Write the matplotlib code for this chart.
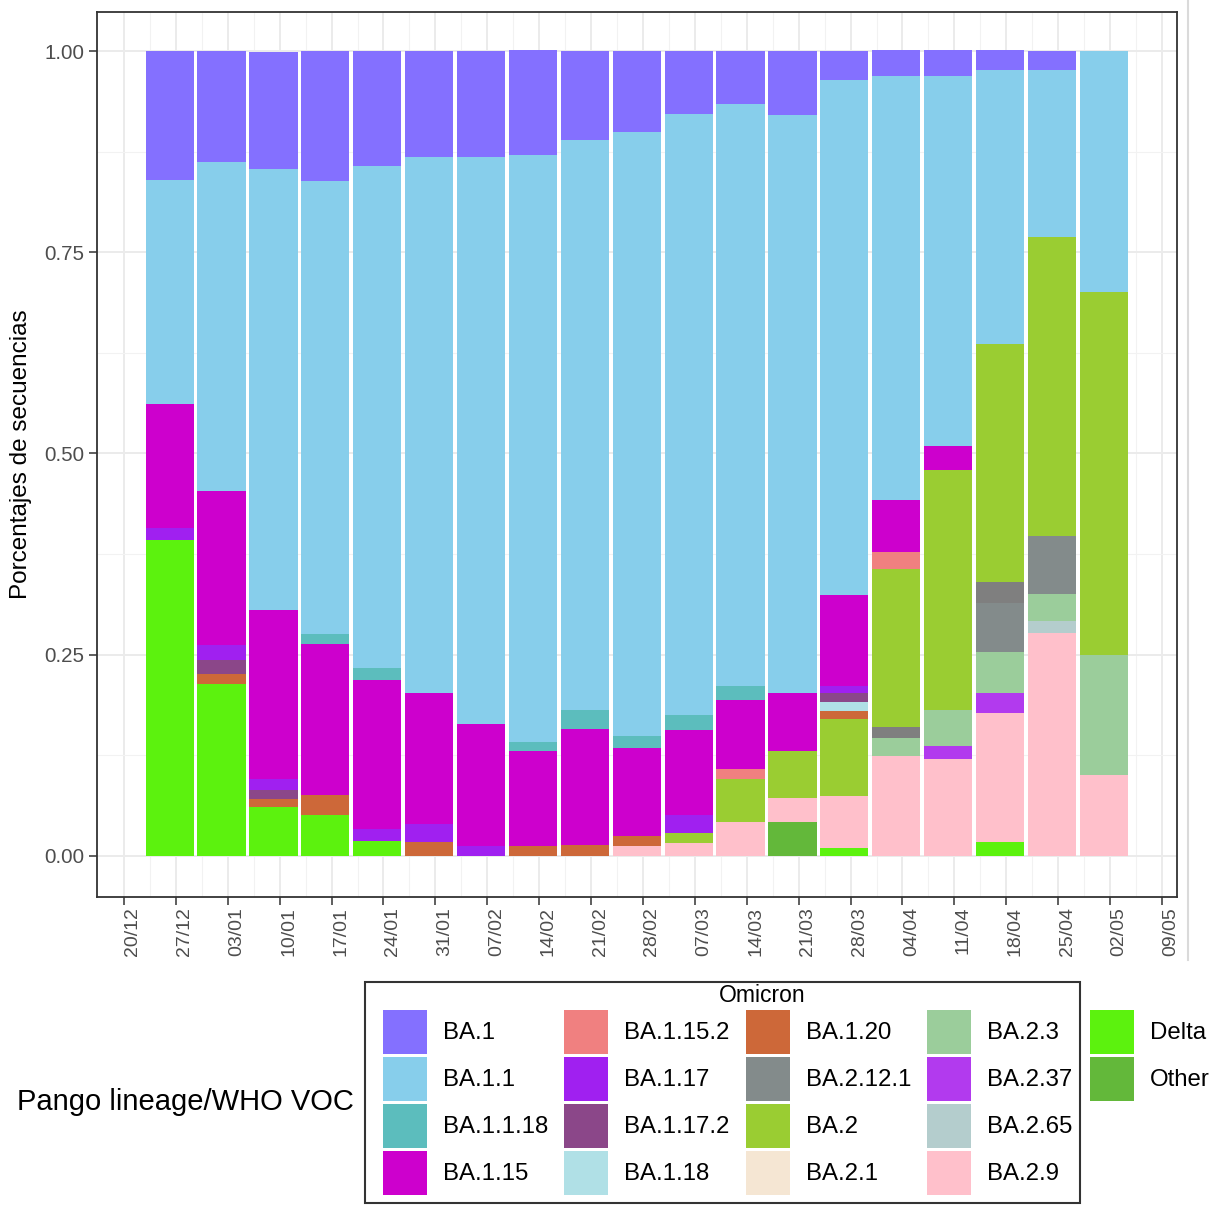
import matplotlib
matplotlib.use("Agg")
import matplotlib.pyplot as plt
from matplotlib.patches import Patch, Rectangle
from matplotlib.lines import Line2D
from matplotlib.transforms import ScaledTranslation, blended_transform_factory
import numpy as np

plt.rcParams['font.family'] = ['Liberation Sans', 'DejaVu Sans']

# ---------------- data ----------------
tick_labels = ["20/12", "27/12", "03/01", "10/01", "17/01", "24/01", "31/01",
               "07/02", "14/02", "21/02", "28/02", "07/03", "14/03", "21/03",
               "28/03", "04/04", "11/04", "18/04", "25/04", "02/05", "09/05"]
weeks = ["27/12", "03/01", "10/01", "17/01", "24/01", "31/01", "07/02",
         "14/02", "21/02", "28/02", "07/03", "14/03", "21/03", "28/03",
         "04/04", "11/04", "18/04", "25/04", "02/05"]

#            27/12  03/01  10/01  17/01  24/01  31/01  07/02  14/02  21/02  28/02  07/03  14/03  21/03  28/03  04/04  11/04  18/04  25/04  02/05
other      = [0,     0,     0,     0,     0,     0,     0,     0,     0,     0,     0,     0,     0.042, 0,     0,     0,     0,     0,     0]
delta      = [0.393, 0.214, 0.061, 0.051, 0.019, 0,     0,     0,     0,     0,     0,     0,     0,     0.010, 0,     0,     0.017, 0,     0]
ba2_9      = [0,     0,     0,     0,     0,     0,     0,     0,     0,     0.012, 0.016, 0.042, 0.030, 0.064, 0.124, 0.121, 0.160, 0.277, 0.100]
ba2_65     = [0,     0,     0,     0,     0,     0,     0,     0,     0,     0,     0,     0,     0,     0,     0,     0,     0,     0.015, 0]
ba2_37     = [0,     0,     0,     0,     0,     0,     0,     0,     0,     0,     0,     0,     0,     0,     0,     0.015, 0.026, 0,     0]
ba2_3      = [0,     0,     0,     0,     0,     0,     0,     0,     0,     0,     0,     0,     0,     0,     0.022, 0.045, 0.051, 0.034, 0.150]
ba2_1      = [0,     0,     0,     0,     0,     0,     0,     0,     0,     0,     0,     0,     0,     0,     0,     0,     0,     0,     0]
ba2_12_1   = [0,     0,     0,     0,     0,     0,     0,     0,     0,     0,     0,     0,     0,     0,     0,     0,     0.060, 0.071, 0]
ba2_oth    = [0,     0,     0,     0,     0,     0,     0,     0,     0,     0,     0,     0,     0,     0,     0.014, 0,     0.026, 0,     0]
ba2        = [0,     0,     0,     0,     0,     0,     0,     0,     0,     0,     0.013, 0.054, 0.058, 0.096, 0.197, 0.299, 0.296, 0.372, 0.451]
ba1_20     = [0,     0.012, 0.010, 0.025, 0,     0.017, 0,     0.012, 0.014, 0.013, 0,     0,     0,     0.010, 0,     0,     0,     0,     0]
ba1_18     = [0,     0,     0,     0,     0,     0,     0,     0,     0,     0,     0,     0,     0,     0.011, 0,     0,     0,     0,     0]
ba1_17_2   = [0,     0.017, 0.011, 0,     0,     0,     0,     0,     0,     0,     0,     0,     0,     0.011, 0,     0,     0,     0,     0]
ba1_17     = [0.015, 0.019, 0.013, 0,     0.015, 0.023, 0.012, 0,     0,     0,     0.022, 0,     0,     0.009, 0,     0,     0,     0,     0]
ba1_15_2   = [0,     0,     0,     0,     0,     0,     0,     0,     0,     0,     0,     0.012, 0,     0,     0.021, 0,     0,     0,     0]
ba1_15     = [0.154, 0.192, 0.210, 0.187, 0.184, 0.163, 0.152, 0.118, 0.144, 0.109, 0.105, 0.086, 0.073, 0.113, 0.064, 0.029, 0,     0,     0]
ba1_1_18   = [0,     0,     0,     0.013, 0.015, 0,     0,     0.011, 0.023, 0.015, 0.019, 0.017, 0,     0,     0,     0,     0,     0,     0]
ba1_1      = [0.278, 0.408, 0.549, 0.562, 0.624, 0.665, 0.704, 0.730, 0.708, 0.751, 0.747, 0.723, 0.717, 0.640, 0.527, 0.460, 0.340, 0.208, 0.299]
ba1        = [0.160, 0.138, 0.145, 0.162, 0.143, 0.132, 0.132, 0.130, 0.111, 0.100, 0.078, 0.066, 0.080, 0.036, 0.032, 0.032, 0.025, 0.023, 0]

# stacking order, bottom -> top
stack = [
    ("Other",     other,    "#63B83A"),
    ("Delta",     delta,    "#5CF20E"),
    ("BA.2.9",    ba2_9,    "#FFC0CB"),
    ("BA.2.65",   ba2_65,   "#B4CDCD"),
    ("BA.2.37",   ba2_37,   "#B23AEE"),
    ("BA.2.3",    ba2_3,    "#9BCD9B"),
    ("BA.2.1",    ba2_1,    "#F5E6D3"),
    ("BA.2.12.1", ba2_12_1, "#838B8B"),
    ("_BA.2 otros", ba2_oth, "#7F7F7F"),
    ("BA.2",      ba2,      "#9ACD32"),
    ("BA.1.20",   ba1_20,   "#CD6839"),
    ("BA.1.18",   ba1_18,   "#B0E0E6"),
    ("BA.1.17.2", ba1_17_2, "#8B4789"),
    ("BA.1.17",   ba1_17,   "#A020F0"),
    ("BA.1.15.2", ba1_15_2, "#F08080"),
    ("BA.1.15",   ba1_15,   "#CD00CD"),
    ("BA.1.1.18", ba1_1_18, "#5CBDBD"),
    ("BA.1.1",    ba1_1,    "#87CEEB"),
    ("BA.1",      ba1,      "#8470FF"),
]
colors = {n: c for n, _, c in stack}

omicron_legend = ["BA.1", "BA.1.1", "BA.1.1.18", "BA.1.15",
                  "BA.1.15.2", "BA.1.17", "BA.1.17.2", "BA.1.18",
                  "BA.1.20", "BA.2.12.1", "BA.2", "BA.2.1",
                  "BA.2.3", "BA.2.37", "BA.2.65", "BA.2.9"]
voc_legend = ["Delta", "Other"]

# ---------------- figure ----------------
W, H = 1216, 1205
fig = plt.figure(figsize=(W / 100, H / 100), dpi=100)
L, R, T, B = 97, 1177, 12, 897
ax = fig.add_axes([L / W, 1 - B / H, (R - L) / W, (B - T) / H])

pos = np.arange(1, len(weeks) + 1) - 0.12
bottom = np.zeros(len(weeks))
for name, vals, col in stack:
    v = np.array(vals, dtype=float)
    ax.bar(pos, v, bottom=bottom, width=0.93, color=col, linewidth=0, zorder=3)
    bottom += v

ax.set_xlim(-0.52, 20.29)
ax.set_ylim(-0.051, 1.0485)
tick_pos = np.arange(len(tick_labels))
ax.set_xticks(tick_pos)
ax.set_xticklabels([])
# x tick labels (slightly offset to the right of the ticks, as in the original)
lab_tr = blended_transform_factory(ax.transData, ax.transAxes) + \
    ScaledTranslation(9 / 100, -10 / 100, fig.dpi_scale_trans)
for xp, lab in zip(tick_pos, tick_labels):
    ax.text(xp, 0, lab, transform=lab_tr, rotation=90, ha="center", va="top",
            fontsize=14, color="#4D4D4D", clip_on=False)
ax.set_xticks(tick_pos[:-1] + 0.5, minor=True)
ax.set_yticks([0, 0.25, 0.5, 0.75, 1.0])
ax.set_yticklabels(["0.00", "0.25", "0.50", "0.75", "1.00"], fontsize=14.8, color="#4D4D4D")
ax.set_yticks([0.125, 0.375, 0.625, 0.875], minor=True)
ax.tick_params(axis="both", which="major", length=6, width=1.1, color="#333333", pad=3)
ax.tick_params(axis="both", which="minor", length=0)
ax.grid(which="major", color="#EBEBEB", linewidth=1.4, zorder=0)
ax.grid(which="minor", color="#F2F2F2", linewidth=0.8, zorder=0)
ax.set_axisbelow(True)
for s in ax.spines.values():
    s.set_color("#333333")
    s.set_linewidth(1.3)
ax.set_ylabel("Porcentajes de secuencias", fontsize=17.5, labelpad=9)

# light vertical artefact line at right of the picture
fig.add_artist(Line2D([1188 / W, 1188 / W], [1 - 960 / H, 1.0], color="#DADADA", linewidth=1.5))

# ---------------- legends ----------------
fs = 17.3
em = fs * 100 / 72
key = 44 / em
hh = (key - 0.245) / 0.65
handles = [Patch(facecolor=colors[n], edgecolor="none") for n in omicron_legend]
leg1 = fig.legend(handles, omicron_legend, ncol=4, loc="upper left",
                  bbox_to_anchor=(383 / W, 1 - 1010 / H), fontsize=fs,
                  handlelength=key, handleheight=hh,
                  handletextpad=16 / em, columnspacing=16 / em,
                  labelspacing=3 / em, borderpad=0, borderaxespad=0,
                  frameon=False)

handles2 = [Patch(facecolor=colors[n], edgecolor="none") for n in voc_legend]
leg2 = fig.legend(handles2, voc_legend, ncol=1, loc="upper left",
                  bbox_to_anchor=(1090 / W, 1 - 1010 / H), fontsize=fs,
                  handlelength=key, handleheight=hh,
                  handletextpad=16 / em, labelspacing=3 / em,
                  borderpad=0, borderaxespad=0, frameon=False)

fig.add_artist(Rectangle((365 / W, 1 - 1203 / H), (1080 - 365) / W, (1203 - 982) / H,
                         transform=fig.transFigure, facecolor="none",
                         edgecolor="#333333", linewidth=1.5))
fig.text(762 / W, 1 - 996 / H, "Omicron", fontsize=16.5, ha="center", va="center")

fig.text(17 / W, 1 - 1102 / H, "Pango lineage/WHO VOC", fontsize=21,
         ha="left", va="center")

fig.savefig("out.png", dpi=100, facecolor="white")
